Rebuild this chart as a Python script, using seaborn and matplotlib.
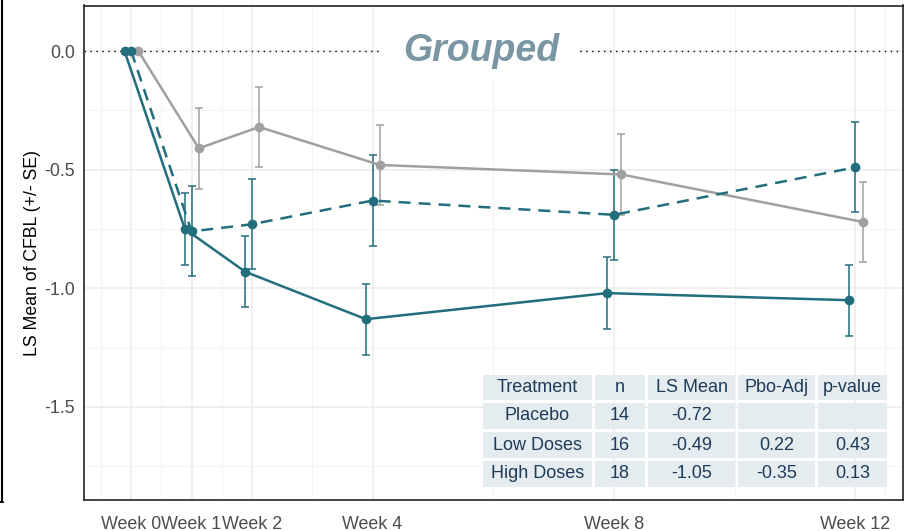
import numpy as np
import pandas as pd
import matplotlib
matplotlib.use("Agg")
import matplotlib.pyplot as plt
from matplotlib.patches import Rectangle
from matplotlib.lines import Line2D
import seaborn as sns

# ---- data -------------------------------------------------------------
weeks = [0, 1, 2, 4, 8, 12]
week_labels = ["Week 0", "Week 1", "Week 2", "Week 4", "Week 8", "Week 12"]

treatments = ["Placebo", "Low Doses", "High Doses"]
n_subjects = [14, 16, 18]
ls_mean_wk12 = [-0.72, -0.49, -1.05]
pbo_adj = ["", "0.22", "-0.35"]
p_values = ["", "0.43", "0.13"]

placebo_mean = [0.0, -0.41, -0.32, -0.48, -0.52, ls_mean_wk12[0]]
placebo_se = [0.0, 0.17, 0.17, 0.17, 0.17, 0.17]
low_mean = [0.0, -0.76, -0.73, -0.63, -0.69, ls_mean_wk12[1]]
low_se = [0.0, 0.19, 0.19, 0.19, 0.19, 0.19]
high_mean = [0.0, -0.75, -0.93, -1.13, -1.02, ls_mean_wk12[2]]
high_se = [0.0, 0.15, 0.15, 0.15, 0.15, 0.15]

# ---- styling ------------------------------------------------------------
TEAL = "#216E7C"
GREY = "#A0A0A0"
palette = {"Placebo": GREY, "Low Doses": TEAL, "High Doses": TEAL}
dodge = {"Placebo": 0.12, "Low Doses": 0.0, "High Doses": -0.11}

sns.set_theme(style="white")
plt.rcParams["font.family"] = ["Liberation Sans", "DejaVu Sans"]
plt.rcParams["axes.unicode_minus"] = False

frames = []
for name, m, s in zip(treatments, [placebo_mean, low_mean, high_mean],
                      [placebo_se, low_se, high_se]):
    frames.append(pd.DataFrame({"group": name, "week": weeks, "mean": m, "se": s}))
df = pd.concat(frames, ignore_index=True)
df["xpos"] = df["week"] + df["group"].map(dodge)

W, H = 913, 531
fig = plt.figure(figsize=(W / 100, H / 100), dpi=100)
ax = fig.add_axes([83.5 / W, 1 - 500 / H, (903 - 83.5) / W, (500 - 5.5) / H])

# error bars
for name in treatments:
    sub = df[(df["group"] == name) & (df["se"] > 0)]
    ax.errorbar(sub["xpos"], sub["mean"], yerr=sub["se"], fmt="none",
                ecolor=palette[name], elinewidth=1.1, capsize=2.8,
                capthick=1.1, zorder=2.5)

# mean profiles
sns.lineplot(data=df, x="xpos", y="mean", hue="group", style="group",
             hue_order=treatments, style_order=treatments, palette=palette,
             dashes={"Placebo": "", "Low Doses": (4.8, 3.2), "High Doses": ""},
             markers={"Placebo": "o", "Low Doses": "o", "High Doses": "o"},
             markersize=7, markeredgewidth=0, linewidth=1.8,
             estimator=None, sort=False, legend=False, ax=ax, zorder=3)

# reference line at zero
ax.axhline(0, color="black", lw=1.0, linestyle=(0, (1, 3.3)), zorder=1.5)

# axes, grid
ax.set_xlim(-0.79, 12.79)
ax.set_ylim(-1.892, 0.192)
ax.set_xticks(weeks)
ax.set_xticklabels(week_labels)
ax.set_xticks([-0.5, 0.5, 1.5, 3, 6, 10, 12.5], minor=True)
yt = [0.0, -0.5, -1.0, -1.5]
ax.set_yticks(yt)
ax.set_yticklabels([f"{v:.1f}" for v in yt])
ax.set_yticks([-0.25, -0.75, -1.25, -1.75], minor=True)
ax.set_axisbelow(True)
ax.grid(which="major", color="#EBEBEB", lw=1.1)
ax.grid(which="minor", color="#F3F3F3", lw=0.6)
ax.tick_params(which="major", length=2.9, width=1.0, color="#333333",
               labelcolor="#4D4D4D", labelsize=12.9)
ax.tick_params(axis="x", pad=8.5)
ax.tick_params(axis="y", pad=3)
ax.tick_params(which="minor", length=0)
for sp in ax.spines.values():
    sp.set_color("#222222")
    sp.set_linewidth(1.2)
ax.set_xlabel("")
ax.set_ylabel("LS Mean of CFBL (+/- SE)", fontsize=12.7, color="black")
ax.yaxis.set_label_coords((41 - 83.5) / (903 - 83.5), 0.5)

# title label sitting on the zero line
ax.add_patch(Rectangle((4.14, -0.122), 3.305, 0.4, facecolor="white",
                       edgecolor="none", zorder=1.8))
ax.text(5.8, 0.0, "Grouped", fontsize=27, fontweight="bold", fontstyle="italic",
        color="#7A96A4", ha="center", va="center", zorder=4)

# summary table
col_edges = [(483, 592), (595, 645), (648, 735), (738, 815), (818, 887)]
row_edges = [(375, 400), (403, 429), (432, 458), (461, 487)]
header = ["Treatment", "n", "LS Mean", "Pbo-Adj", "p-value"]
rows = [header] + [
    [t, str(n), f"{m:.2f}", a, p]
    for t, n, m, a, p in zip(treatments, n_subjects, ls_mean_wk12, pbo_adj, p_values)
]
for (y0, y1), row in zip(row_edges, rows):
    for (x0, x1), txt in zip(col_edges, row):
        fig.add_artist(Rectangle((x0 / W, 1 - y1 / H), (x1 - x0) / W, (y1 - y0) / H,
                                 transform=fig.transFigure, facecolor="#E4ECEF",
                                 edgecolor="none", zorder=5))
        fig.text((x0 + x1) / 2 / W, 1 - (y0 + y1) / 2 / H, txt, fontsize=13,
                 color="#1E3A58", ha="center", va="center", zorder=6)

# outer frame edge on the left
fig.add_artist(Line2D([2 / W, 2 / W], [1, 1 - 502 / H], color="black", lw=1.5))
fig.add_artist(Line2D([0, 3 / W], [1 - 502 / H, 1 - 502 / H], color="black", lw=1.5))

fig.savefig("out.png", dpi=100)
